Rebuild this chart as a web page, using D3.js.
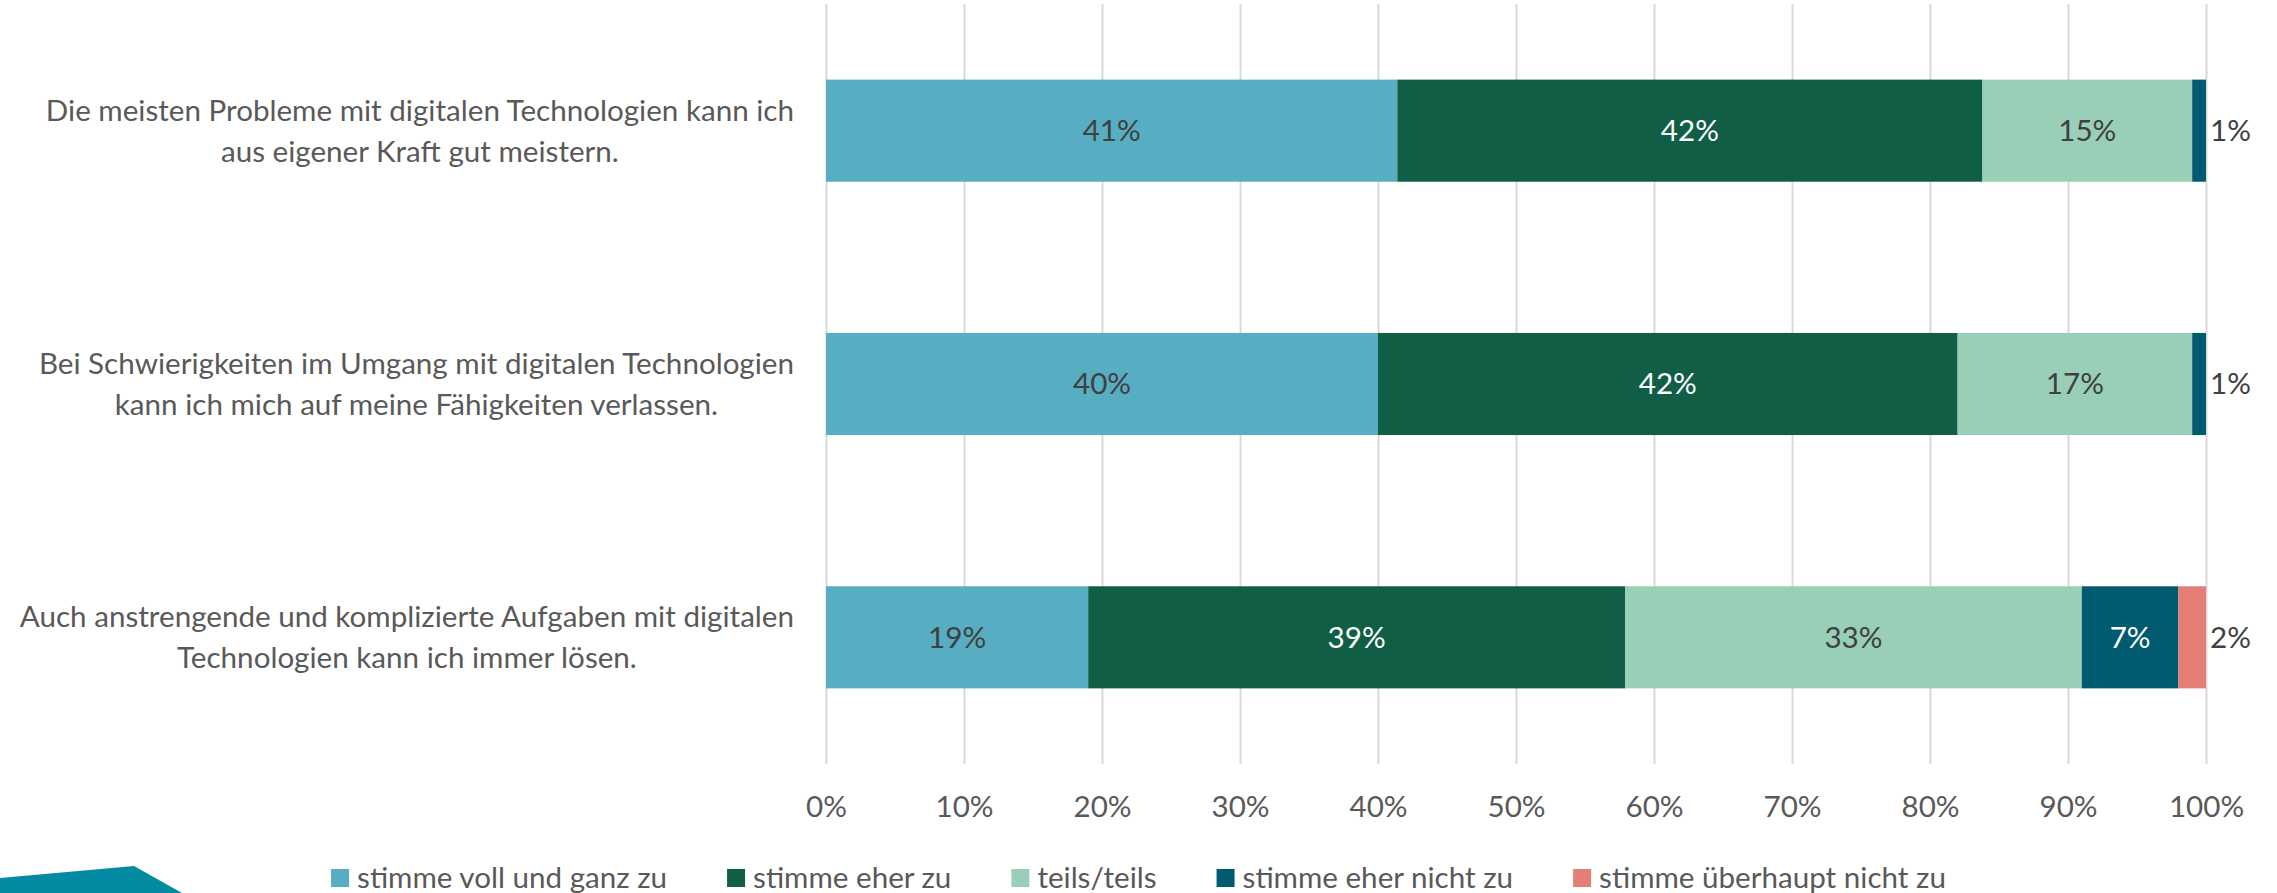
<!DOCTYPE html>
<html>
<head>
<meta charset="utf-8">
<script src="https://cdnjs.cloudflare.com/ajax/libs/d3/7.8.5/d3.min.js"></script>
<style>
  html, body { margin: 0; padding: 0; background: #ffffff; }
  svg { display: block; }
  text { font-family: Lato, "Open Sans", sans-serif; }
</style>
</head>
<body>
<svg id="chart" width="2277" height="893"></svg>
<script>
// ---- Data ----
const categories = [
  ["Die meisten Probleme mit digitalen Technologien kann ich", "aus eigener Kraft gut meistern."],
  ["Bei Schwierigkeiten im Umgang mit digitalen Technologien", "kann ich mich auf meine Fähigkeiten verlassen."],
  ["Auch anstrengende und komplizierte Aufgaben mit digitalen", "Technologien kann ich immer lösen."]
];
const seriesNames = ["stimme voll und ganz zu", "stimme eher zu", "teils/teils", "stimme eher nicht zu", "stimme überhaupt nicht zu"];
const seriesColors = ["#57ADC1", "#0F5E45", "#98CFB6", "#005A70", "#E57E77"];
const labelColors = ["#404040", "#FFFFFF", "#404040", "#FFFFFF", "#404040"];
const voll = [41.4, 40.0, 19.0];
const eher = [42.4, 42.0, 38.9];
const teils = [15.2, 17.0, 33.1];
const eherNicht = [1.0, 1.0, 7.0];
const ueberhauptNicht = [0.0, 0.0, 2.0];
const seriesValues = [voll, eher, teils, eherNicht, ueberhauptNicht];
const tickValues = [0, 10, 20, 30, 40, 50, 60, 70, 80, 90, 100];
const tickLabels = ["0%", "10%", "20%", "30%", "40%", "50%", "60%", "70%", "80%", "90%", "100%"];

// ---- Layout ----
const W = 2277, H = 893;
const plotLeft = 826, plotRight = 2206, plotTop = 4, plotBottom = 764;
const fontSize = 29.6;
const textColor = "#595959";

const svg = d3.select("#chart");
const catKeys = categories.map((c, i) => "c" + i);

const x = d3.scaleLinear().domain([0, 100]).range([plotLeft, plotRight]);
const y = d3.scaleBand().domain(catKeys).range([plotTop, plotBottom]).paddingInner(0.597).paddingOuter(0.2985);

// grid + ticks
const axis = d3.axisBottom(x)
  .tickValues(tickValues)
  .tickFormat((d, i) => tickLabels[i])
  .tickSize(-(plotBottom - plotTop))
  .tickPadding(0);
const gAxis = svg.append("g").attr("transform", `translate(0,${plotBottom})`).call(axis);
gAxis.select(".domain").remove();
gAxis.selectAll(".tick line").attr("stroke", "#D9D9D9").attr("stroke-width", 2);
gAxis.selectAll(".tick text")
  .attr("y", 43).attr("dy", "0.35em")
  .attr("fill", textColor)
  .style("font-size", fontSize + "px")
  .style("font-family", "Lato, 'Open Sans', sans-serif");

// stacked data
const stacked = catKeys.map((k, ci) => {
  let acc = 0;
  return seriesValues.map((vals, si) => {
    const v = vals[ci];
    const seg = { cat: k, si, v, x0: acc, x1: acc + v };
    acc += v;
    return seg;
  });
});
const segs = stacked.flat();

svg.append("g").selectAll("rect")
  .data(segs.filter(d => d.v > 0))
  .join("rect")
  .attr("x", d => x(d.x0))
  .attr("y", d => y(d.cat))
  .attr("width", d => x(d.x1) - x(d.x0))
  .attr("height", y.bandwidth())
  .attr("fill", d => seriesColors[d.si]);

// data labels
svg.append("g").selectAll("text")
  .data(segs.filter(d => d.v > 0))
  .join("text")
  .attr("x", d => (d.v < 3) ? x(d.x1) + 4 : (x(d.x0) + x(d.x1)) / 2)
  .attr("y", d => y(d.cat) + y.bandwidth() / 2)
  .attr("dy", "0.35em")
  .attr("text-anchor", d => (d.v < 3) ? "start" : "middle")
  .attr("fill", d => (d.v < 3) ? "#404040" : labelColors[d.si])
  .style("font-size", fontSize + "px")
  .text(d => Math.round(d.v) + "%");

// category labels (block right-aligned, lines centered)
const labelRight = 794;
const lineGap = 41;
categories.forEach((lines, ci) => {
  const cy = y(catKeys[ci]) + y.bandwidth() / 2;
  const g = svg.append("g");
  const texts = lines.map((ln, li) => g.append("text")
    .attr("y", cy + (li - (lines.length - 1) / 2) * lineGap)
    .attr("dy", "0.35em")
    .attr("text-anchor", "middle")
    .attr("fill", textColor)
    .style("font-size", fontSize + "px")
    .text(ln));
  const maxW = d3.max(texts, t => t.node().getComputedTextLength());
  texts.forEach(t => t.attr("x", labelRight - maxW / 2));
});

// legend
const legY = 878, sq = 18, sqGap = 8, itemGap = 60;
const leg = svg.append("g");
const items = seriesNames.map((name, i) => {
  const g = leg.append("g");
  g.append("rect").attr("x", 0).attr("y", legY - sq / 2).attr("width", sq).attr("height", sq).attr("fill", seriesColors[i]);
  const t = g.append("text").attr("x", sq + sqGap).attr("y", legY).attr("dy", "0.35em")
    .attr("fill", textColor).style("font-size", fontSize + "px").text(name);
  return { g, w: sq + sqGap + t.node().getComputedTextLength() };
});
const totalW = d3.sum(items, d => d.w) + itemGap * (items.length - 1);
let cx = W / 2 - totalW / 2;
items.forEach(it => { it.g.attr("transform", `translate(${cx},0)`); cx += it.w + itemGap; });

// decorative corner shape
svg.append("path")
  .attr("d", d3.line()([[0, 878], [134, 866], [182, 893], [0, 893]]) + "Z")
  .attr("fill", "#028BA3");
</script>
</body>
</html>
